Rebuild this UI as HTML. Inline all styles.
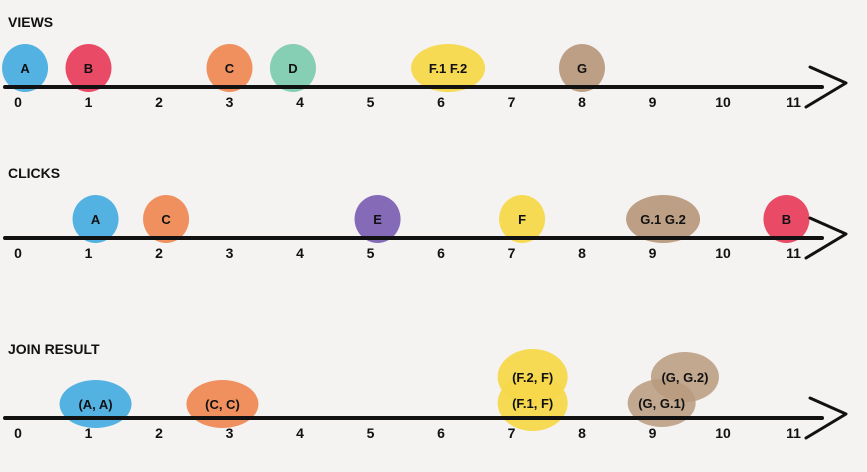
<!DOCTYPE html>
<html><head><meta charset="utf-8"><style>
html,body{margin:0;padding:0;background:#f4f3f1;}
svg{display:block;font-family:"Liberation Sans",sans-serif;}
.lbl{font-weight:bold;font-size:14px;fill:#111;}
.tk{font-weight:bold;font-size:14px;fill:#111;}
.bt{font-weight:bold;font-size:13px;fill:#111;}
</style></head><body>
<svg id="c" width="867" height="472"></svg>
<script>
const ticks=[0,1,2,3,4,5,6,7,8,9,10,11];
const titles=["VIEWS","CLICKS","JOIN RESULT"];
const viewEvents=[["A",0.1],["B",1],["C",3],["D",3.9],["F.1  F.2",6.1],["G",8]];
const clickEvents=[["A",1.1],["C",2.1],["E",5.1],["F",7.15],["G.1  G.2",9.15],["B",10.9]];
const joinEvents=[["(A, A)",1.1],["(C, C)",2.9],["(F.2, F)",7.3],["(F.1, F)",7.3],["(G, G.2)",9.46],["(G, G.1)",9.13]];
const colors={"A":"#4aaee0","B":"#e8405e","C":"#ee8a55","D":"#7fcbb0","E":"#7e62b4","F":"#f6d84a","G":"#b99a7e"};
const S="http://www.w3.org/2000/svg",svg=document.getElementById('c');
const x=v=>18+v*70.5;
const lineY=[87,238,418];
function mk(t,a,p){const e=document.createElementNS(S,t);for(const k in a)e.setAttribute(k,a[k]);(p||svg).appendChild(e);return e;}
function key(s){const m=s.match(/[A-G]/);return m?m[0]:"A";}
[viewEvents,clickEvents,joinEvents].forEach((evs,i)=>{
  const ly=lineY[i];
  const g=mk('g',{});
  
  
  const t=mk('text',{x:8,y:ly-(i==2?64:60),class:'lbl'},g);t.textContent=titles[i];
  
  
  const blobs=[],labels=[];
  evs.forEach((ev,j)=>{
    let cx=x(ev[1]),cy=ly-19,rx=ev[0].length>3?37:23,ry=24;
    if(i==2){
      if(ev[0].startsWith("(F")){rx=35;ry=28;cy=j==2?ly-41:ly-15;}
      else if(ev[0]=="(G, G.2)"){cy=ly-41;rx=34;ry=25;}
      else if(ev[0]=="(G, G.1)"){cy=ly-15;rx=34;ry=24;}
      else{rx=36;ry=24;cy=ly-14;}
    }
    blobs.push([cx,cy,rx,ry,colors[key(ev[0])],i==2&&ev[0].startsWith("(G")?0.85:0.95]);
    labels.push([cx,cy,ev[0]]);
  });
  blobs.forEach(b=>{
    const e=mk('ellipse',{cx:b[0],cy:b[1],rx:b[2],ry:b[3],fill:b[4],opacity:b[5]},g);
    
    
  });
  labels.forEach(l=>{
    const tx=mk('text',{x:l[0],y:l[1]+5,'text-anchor':'middle',class:'bt'},g);tx.textContent=l[2];
    
    
  });
  const ln=mk('line',{x1:5,y1:ly,x2:822,y2:ly,stroke:'#111','stroke-width':4,'stroke-linecap':'round'},g);
  
  
  const ar=mk('polyline',{points:`810,${ly-20} 846,${ly-4} 806,${ly+20}`,fill:'none',stroke:'#111','stroke-width':3,'stroke-linecap':'round','stroke-linejoin':'round'},g);
  
  
  ticks.forEach(v=>{
    const tt=mk('text',{x:x(v),y:ly+20,'text-anchor':'middle',class:'tk'},g);tt.textContent=v;
    
    
  });
});
</script>
</body></html>
